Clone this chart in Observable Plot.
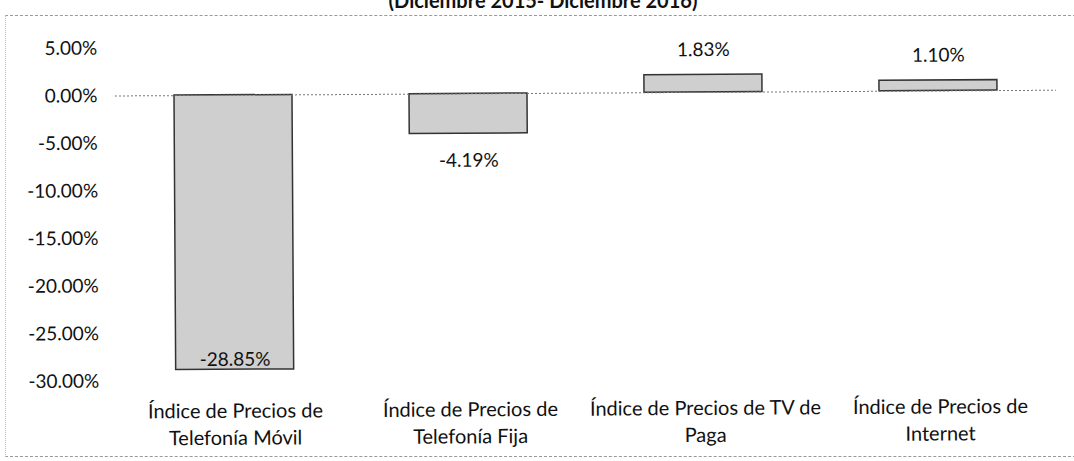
<!DOCTYPE html>
<html><head><meta charset="utf-8">
<script src="https://cdn.jsdelivr.net/npm/d3@7"></script>
<script src="https://cdn.jsdelivr.net/npm/@observablehq/plot@0.6"></script>
<style>
body{margin:0;background:#fff;overflow:hidden;}
#wrap{position:relative;width:1074px;height:461px;font-family:Lato,sans-serif;}
#title{position:absolute;left:0;width:1086px;top:-10px;line-height:20px;text-align:center;font-weight:bold;font-size:20px;color:#111;}
#frame{position:absolute;left:5px;top:15px;width:1080px;height:440px;border-top:1px dashed #999;border-left:1px dotted #bbb;border-bottom:1px dashed #999;}
#chart{position:absolute;left:0;top:0;transform:rotate(-0.35deg);transform-origin:100px 96px;}
</style></head>
<body><div id="wrap"><div id="title">(Diciembre 2015- Diciembre 2016)</div><div id="frame"></div><div id="chart"></div></div>
<script>
const categories = ["Índice de Precios de\nTelefonía Móvil","Índice de Precios de\nTelefonía Fija","Índice de Precios de TV de\nPaga","Índice de Precios de\nInternet"];
const values = [-28.85, -4.19, 1.83, 1.10];
const labels = ["-28.85%","-4.19%","1.83%","1.10%"];
const yTicks = [5,0,-5,-10,-15,-20,-25,-30];

const data = categories.map((c,i)=>({cat:c, v:values[i], label:labels[i]}));

const chart = Plot.plot({
  width:1074, height:461,
  marginTop:48, marginBottom:80, marginLeft:115, marginRight:18,
  style:{fontFamily:"Lato, sans-serif", background:"transparent", color:"#111"},
  x:{domain:categories, paddingInner:0.5, paddingOuter:0.25, axis:null},
  y:{domain:[-30,5], axis:null},
  marks:[
    Plot.axisY({ticks:yTicks, tickFormat:d=>d.toFixed(2)+"%", tickSize:0, tickPadding:18, fontSize:19, label:null}),
    Plot.axisX({tickSize:0, tickPadding:18, fontSize:20, lineHeight:1.35, tickFormat:d=>d, label:null}),
    Plot.barY(data,{x:"cat", y:"v", fill:"#cfcfcf", stroke:"#333", strokeWidth:1.5}),
    Plot.ruleY([0],{stroke:"#777", strokeDasharray:"2,2"}),
    Plot.text(data.filter(d=>d.v>0),{x:"cat", y:"v", text:"label", dy:-25, fontSize:19}),
    Plot.text(data.filter(d=>d.v<0 && d.v>-20),{x:"cat", y:"v", text:"label", dy:27, fontSize:19}),
    Plot.text(data.filter(d=>d.v<=-20),{x:"cat", y:"v", text:"label", dy:-10, fontSize:19})
  ]
});
document.getElementById("chart").appendChild(chart);
</script></body></html>
